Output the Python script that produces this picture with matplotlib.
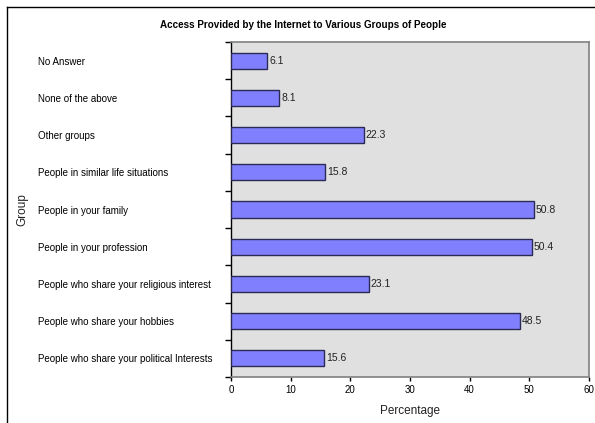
import matplotlib
matplotlib.use("Agg")
import matplotlib.pyplot as plt
import numpy as np

# DATA
groups = [
    "No Answer",
    "None of the above",
    "Other groups",
    "People in similar life situations",
    "People in your family",
    "People in your profession",
    "People who share your religious interest",
    "People who share your hobbies",
    "People who share your political Interests",
]
percentages = [6.1, 8.1, 22.3, 15.8, 50.8, 50.4, 23.1, 48.5, 15.6]
x_ticks = [0, 10, 20, 30, 40, 50, 60]

title = "Access Provided by the Internet to Various Groups of People"
font = ["Liberation Sans", "DejaVu Sans"]

fig = plt.figure(figsize=(5.95, 4.23), dpi=100)
fig.patch.set_facecolor("white")

# outer frame lines (top and left)
fig.add_artist(plt.Line2D([7 / 595, 1], [1 - 7 / 423, 1 - 7 / 423], color="black", lw=1))
fig.add_artist(plt.Line2D([7 / 595, 7 / 595], [0, 1 - 7 / 423], color="black", lw=1))

ax = fig.add_axes([231 / 595, 1 - 377 / 423, (589 - 231) / 595, (377 - 42) / 423])
ax.set_facecolor("#e0e0e0")

n = len(groups)
pos = np.arange(n)
ax.barh(pos, percentages, height=0.43, color="#8080ff", edgecolor="#2a2a55", linewidth=1, zorder=3)

for p, v in zip(pos, percentages):
    ax.text(v + 0.3, p, f"{v}", va="center", ha="left", fontsize=7.5, family=font, color="#222222", zorder=4)

ax.set_xlim(0, 60)
ax.set_ylim(n - 0.5, -0.5)

ax.set_xticks(x_ticks)
ax.set_xticklabels([str(t) for t in x_ticks], family=font, fontsize=7)
ax.tick_params(axis="x", length=3, width=1, pad=3, color="black")

ax.set_yticks(pos)
ax.set_yticklabels(groups, family=font, fontsize=7)
for lab in ax.get_yticklabels():
    lab.set_ha("left")
ax.tick_params(axis="y", which="major", length=0, pad=(231 - 38) * 0.72)
ax.set_yticks(np.arange(n + 1) - 0.5, minor=True)
ax.tick_params(axis="y", which="minor", length=4, width=1, color="black")

for s in ["top", "right", "bottom"]:
    ax.spines[s].set_color("#808080")
    ax.spines[s].set_linewidth(1.2)
ax.spines["left"].set_color("black")
ax.spines["left"].set_linewidth(1)

fig.text(410 / 595, 1 - 411 / 423, "Percentage", ha="center", va="center", fontsize=8.5, family=font, color="#222222")
fig.text(22 / 595, 1 - 210 / 423, "Group", ha="center", va="center", rotation=90, fontsize=8.5, family=font, color="#222222")
fig.text(303 / 595, 1 - 25 / 423, title, ha="center", va="center", fontsize=7.1, fontweight="bold", family=font)

fig.savefig("out.png", dpi=100)
